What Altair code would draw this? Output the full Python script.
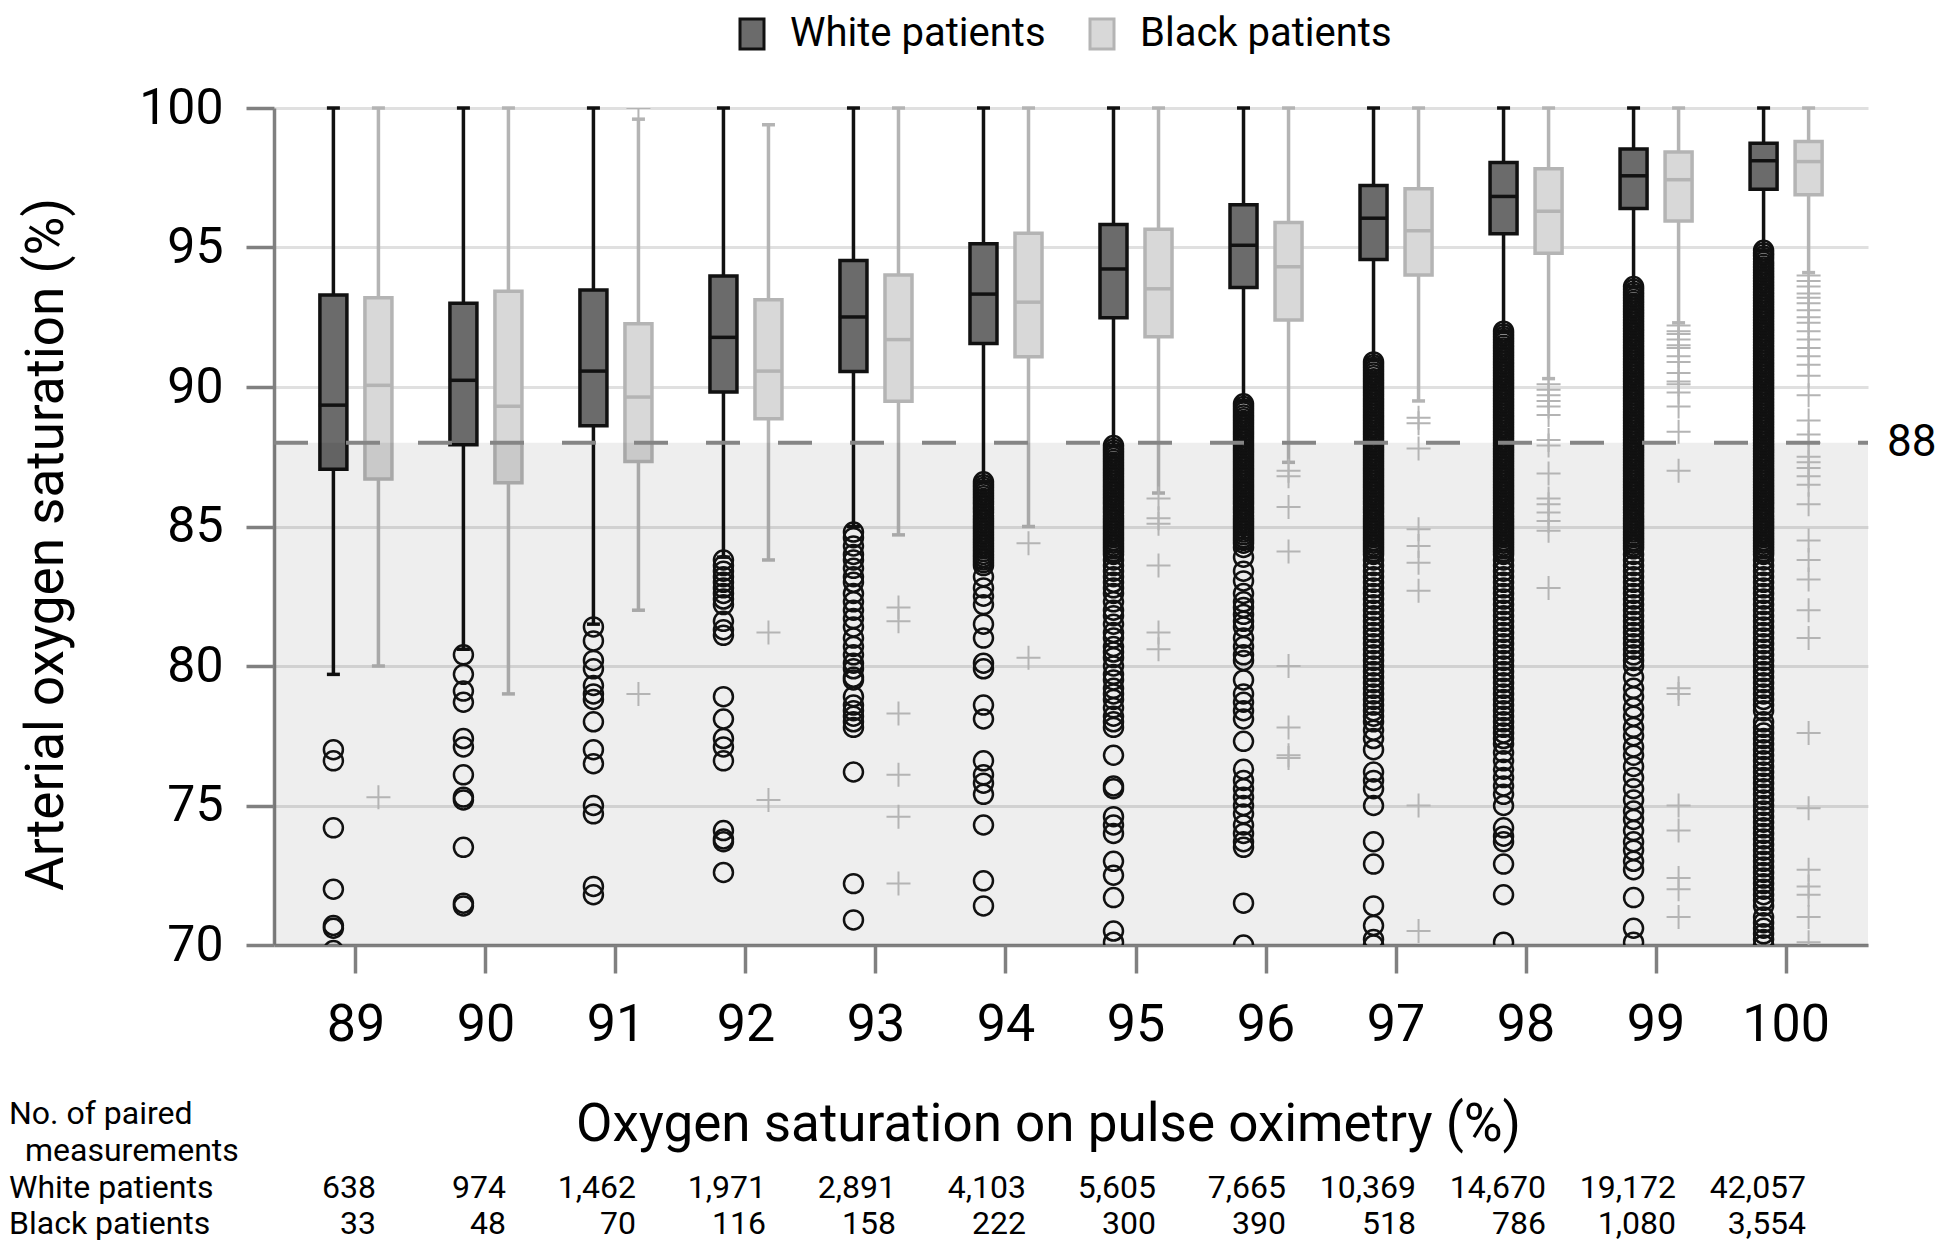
import altair as alt
import pandas as pd

# ---------------- data ----------------
categories = ["89", "90", "91", "92", "93", "94", "95", "96", "97", "98", "99", "100"]
GROUPS = ["White patients", "Black patients"]

white_lo = [79.7, 80.6, 81.5, 83.9, 85.0, 86.6, 87.9, 89.5, 91.0, 92.0, 93.6, 94.9]
white_q1 = [87.05, 87.93, 88.61, 89.82, 90.56, 91.56, 92.48, 93.57, 94.57, 95.49, 96.40, 97.09]
white_med = [89.35, 90.24, 90.57, 91.78, 92.51, 93.33, 94.23, 95.08, 96.05, 96.83, 97.57, 98.11]
white_q3 = [93.3, 93.0, 93.48, 93.98, 94.53, 95.13, 95.82, 96.53, 97.22, 98.05, 98.53, 98.74]
white_hi = [100, 100, 100, 100, 100, 100, 100, 100, 100, 100, 100, 100]

black_lo = [80.0, 79.0, 82.0, 83.8, 84.7, 85.0, 86.2, 87.3, 89.5, 90.3, 92.3, 94.1]
black_q1 = [86.7, 86.57, 87.33, 88.86, 89.49, 91.08, 91.80, 92.40, 94.01, 94.79, 95.95, 96.89]
black_med = [90.06, 89.31, 89.64, 90.57, 91.70, 93.04, 93.52, 94.31, 95.60, 96.30, 97.43, 98.08]
black_q3 = [93.2, 93.43, 92.27, 93.13, 94.01, 95.51, 95.65, 95.90, 97.11, 97.82, 98.42, 98.80]
black_hi = [100, 100, 99.6, 99.4, 100, 100, 100, 100, 100, 100, 100, 100]

white_n = [638, 974, 1462, 1971, 2891, 4103, 5605, 7665, 10369, 14670, 19172, 42057]
black_n = [33, 48, 70, 116, 158, 222, 300, 390, 518, 786, 1080, 3554]

# outliers (white patients: circles)
w_out_89 = [77.0, 76.6, 74.2, 72.0, 70.7, 70.6, 69.8]
w_out_90 = [80.4, 79.7, 79.1, 78.7, 77.4, 77.1, 76.1, 75.3, 75.2, 73.5, 71.5, 71.4]
w_out_91 = [81.4, 80.9, 80.2, 79.9, 79.3, 79.0, 78.8, 78.0, 77.0, 76.5, 75.0, 74.7, 72.1, 71.8]
w_out_92 = [83.8, 83.6, 83.4, 83.2, 83.0, 82.8, 82.6, 82.4, 82.2, 81.6, 81.3, 81.1,
            78.9, 78.1, 77.4, 77.1, 76.6, 74.1, 73.8, 73.7, 72.6]
w_out_93 = [84.8, 84.6, 84.3, 84.0, 83.8, 83.5, 83.2, 83.0, 82.6, 82.3, 82.0, 81.7, 81.4,
            81.0, 80.7, 80.4, 80.1, 79.9, 79.6, 79.5, 78.9, 78.6, 78.4, 78.2, 78.0, 77.8,
            76.2, 72.2, 70.9]
w_out_94 = [86.6, 86.5, 86.4, 86.3, 86.2, 86.1, 86.0, 85.9, 85.8, 85.7, 85.6, 85.5, 85.4,
            85.3, 85.2, 85.1, 85.0, 84.9, 84.8, 84.7, 84.6, 84.5, 84.4, 84.3, 84.2, 84.1,
            84.0, 83.9, 83.8, 83.7, 83.6,
            83.2, 82.8, 82.5, 82.2, 81.5, 81.0, 80.1, 79.9, 78.6, 78.1, 76.6, 76.1, 75.8,
            75.4, 74.3, 72.3, 71.4]
w_out_95 = [87.9, 87.8, 87.7, 87.6, 87.5, 87.4, 87.3, 87.2, 87.1, 87.0,
            86.9, 86.8, 86.7, 86.6, 86.5, 86.4, 86.3, 86.2, 86.1, 86.0,
            85.9, 85.8, 85.7, 85.6, 85.5, 85.4, 85.3, 85.2, 85.1, 85.0,
            84.9, 84.8, 84.7, 84.6, 84.5, 84.4, 84.3, 84.2, 84.1, 84.0,
            83.8, 83.6, 83.4, 83.2, 83.0, 82.8, 82.6, 82.3, 82.0, 81.8, 81.5, 81.2,
            81.0, 80.7, 80.5, 80.3, 80.0, 79.7, 79.5, 79.2, 79.0, 78.8, 78.5, 78.2,
            78.0, 77.8, 76.8, 75.7, 75.6, 74.6, 74.3, 74.0, 73.0, 72.5, 71.7, 70.5, 70.1]
w_out_96 = [89.4, 89.3, 89.2, 89.1, 89.0,
            88.9, 88.8, 88.7, 88.6, 88.5, 88.4, 88.3, 88.2, 88.1, 88.0,
            87.9, 87.8, 87.7, 87.6, 87.5, 87.4, 87.3, 87.2, 87.1, 87.0,
            86.9, 86.8, 86.7, 86.6, 86.5, 86.4, 86.3, 86.2, 86.1, 86.0,
            85.9, 85.8, 85.7, 85.6, 85.5, 85.4, 85.3, 85.2, 85.1, 85.0,
            84.9, 84.8, 84.7, 84.6, 84.5, 84.4,
            84.25, 83.9, 83.4, 83.05, 82.6, 82.3, 82.1, 81.85, 81.6, 81.4, 81.0, 80.7,
            80.4, 80.2, 79.5, 79.0, 78.7, 78.4, 78.1, 77.3, 76.3, 75.9, 75.6, 75.3,
            75.0, 74.7, 74.3, 74.0, 73.7, 73.5, 71.5, 70.0]
w_out_97 = [90.9, 90.8, 90.7, 90.6, 90.5, 90.4, 90.3, 90.2, 90.1, 90.0,
            89.9, 89.8, 89.7, 89.6, 89.5, 89.4, 89.3, 89.2, 89.1, 89.0,
            88.9, 88.8, 88.7, 88.6, 88.5, 88.4, 88.3, 88.2, 88.1, 88.0,
            87.9, 87.8, 87.7, 87.6, 87.5, 87.4, 87.3, 87.2, 87.1, 87.0,
            86.9, 86.8, 86.7, 86.6, 86.5, 86.4, 86.3, 86.2, 86.1, 86.0,
            85.9, 85.8, 85.7, 85.6, 85.5, 85.4, 85.3, 85.2, 85.1, 85.0,
            84.9, 84.8, 84.7, 84.6, 84.5, 84.4, 84.3, 84.2, 84.1, 84.0,
            83.8, 83.6, 83.4, 83.2, 83.0, 82.8, 82.6, 82.4, 82.2, 82.0,
            81.8, 81.6, 81.4, 81.2, 81.0, 80.8, 80.6, 80.4, 80.2, 80.0,
            79.8, 79.6, 79.4, 79.2, 79.0, 78.8, 78.6, 78.4, 78.2, 78.0,
            77.7, 77.4, 77.0, 76.2, 75.9, 75.6, 75.0, 73.7, 72.9, 71.4, 70.7, 70.2, 70.0]
w_out_98 = [92.0,
            91.9, 91.8, 91.7, 91.6, 91.5, 91.4, 91.3, 91.2, 91.1, 91.0,
            90.9, 90.8, 90.7, 90.6, 90.5, 90.4, 90.3, 90.2, 90.1, 90.0,
            89.9, 89.8, 89.7, 89.6, 89.5, 89.4, 89.3, 89.2, 89.1, 89.0,
            88.9, 88.8, 88.7, 88.6, 88.5, 88.4, 88.3, 88.2, 88.1, 88.0,
            87.9, 87.8, 87.7, 87.6, 87.5, 87.4, 87.3, 87.2, 87.1, 87.0,
            86.9, 86.8, 86.7, 86.6, 86.5, 86.4, 86.3, 86.2, 86.1, 86.0,
            85.9, 85.8, 85.7, 85.6, 85.5, 85.4, 85.3, 85.2, 85.1, 85.0,
            84.9, 84.8, 84.7, 84.6, 84.5, 84.4, 84.3, 84.2, 84.1, 84.0,
            83.8, 83.6, 83.4, 83.2, 83.0, 82.8, 82.6, 82.4, 82.2, 82.0,
            81.8, 81.6, 81.4, 81.2, 81.0, 80.8, 80.6, 80.4, 80.2, 80.0,
            79.8, 79.6, 79.4, 79.2, 79.0, 78.8, 78.6, 78.4, 78.2, 78.0,
            77.8, 77.6, 77.4, 77.2,
            76.9, 76.6, 76.3, 76.0, 75.7, 75.4, 75.0, 74.2, 73.9, 73.7, 72.9, 71.8, 70.1]
w_out_99 = [93.6, 93.5, 93.4, 93.3, 93.2, 93.1, 93.0,
            92.9, 92.8, 92.7, 92.6, 92.5, 92.4, 92.3, 92.2, 92.1, 92.0,
            91.9, 91.8, 91.7, 91.6, 91.5, 91.4, 91.3, 91.2, 91.1, 91.0,
            90.9, 90.8, 90.7, 90.6, 90.5, 90.4, 90.3, 90.2, 90.1, 90.0,
            89.9, 89.8, 89.7, 89.6, 89.5, 89.4, 89.3, 89.2, 89.1, 89.0,
            88.9, 88.8, 88.7, 88.6, 88.5, 88.4, 88.3, 88.2, 88.1, 88.0,
            87.9, 87.8, 87.7, 87.6, 87.5, 87.4, 87.3, 87.2, 87.1, 87.0,
            86.9, 86.8, 86.7, 86.6, 86.5, 86.4, 86.3, 86.2, 86.1, 86.0,
            85.9, 85.8, 85.7, 85.6, 85.5, 85.4, 85.3, 85.2, 85.1, 85.0,
            84.9, 84.8, 84.7, 84.6, 84.5, 84.4, 84.3, 84.2,
            84.0, 83.8, 83.6, 83.4, 83.2, 83.0, 82.8, 82.6, 82.4, 82.2, 82.0,
            81.8, 81.6, 81.4, 81.2, 81.0, 80.8, 80.6, 80.4, 80.2, 80.0,
            79.6, 79.2, 78.9, 78.5, 78.2, 77.8, 77.5, 77.1, 76.8, 76.4, 76.0, 75.6,
            75.2, 74.8, 74.5, 74.1, 73.7, 73.4, 73.0, 72.7, 71.7, 70.6, 70.1]
w_out_100 = [94.9, 94.8, 94.7, 94.6, 94.5, 94.4, 94.3, 94.2, 94.1, 94.0,
             93.9, 93.8, 93.7, 93.6, 93.5, 93.4, 93.3, 93.2, 93.1, 93.0,
             92.9, 92.8, 92.7, 92.6, 92.5, 92.4, 92.3, 92.2, 92.1, 92.0,
             91.9, 91.8, 91.7, 91.6, 91.5, 91.4, 91.3, 91.2, 91.1, 91.0,
             90.9, 90.8, 90.7, 90.6, 90.5, 90.4, 90.3, 90.2, 90.1, 90.0,
             89.9, 89.8, 89.7, 89.6, 89.5, 89.4, 89.3, 89.2, 89.1, 89.0,
             88.9, 88.8, 88.7, 88.6, 88.5, 88.4, 88.3, 88.2, 88.1, 88.0,
             87.9, 87.8, 87.7, 87.6, 87.5, 87.4, 87.3, 87.2, 87.1, 87.0,
             86.9, 86.8, 86.7, 86.6, 86.5, 86.4, 86.3, 86.2, 86.1, 86.0,
             85.9, 85.8, 85.7, 85.6, 85.5, 85.4, 85.3, 85.2, 85.1, 85.0,
             84.9, 84.8, 84.7, 84.6, 84.5, 84.4, 84.3, 84.2, 84.1, 84.0,
             83.8, 83.6, 83.4, 83.2, 83.0, 82.8, 82.6, 82.4, 82.2, 82.0,
             81.8, 81.6, 81.4, 81.2, 81.0, 80.8, 80.6, 80.4, 80.2, 80.0,
             79.8, 79.6, 79.4, 79.2, 79.0, 78.8, 78.6, 78.4,
             78.0, 77.8, 77.6, 77.4, 77.2, 77.0, 76.8, 76.6, 76.4, 76.2, 76.0,
             75.8, 75.6, 75.4, 75.2, 75.0, 74.8, 74.6, 74.4, 74.2, 74.0,
             73.8, 73.6, 73.4, 73.2, 73.0, 72.8, 72.6, 72.4, 72.2, 72.0,
             71.8, 71.6, 71.4, 71.0, 70.8, 70.6, 70.4, 70.2, 70.0]

# outliers (black patients: crosses)
b_out_89 = [75.3]
b_out_90 = []
b_out_91 = [100.0, 79.0]
b_out_92 = [81.2, 75.2]
b_out_93 = [82.1, 81.6, 78.3, 76.1, 74.6, 72.2]
b_out_94 = [84.4, 80.3]
b_out_95 = [86.0, 85.3, 85.1, 83.6, 81.2, 80.6]
b_out_96 = [87.0, 86.8, 85.7, 84.1, 80.0, 77.8, 76.8, 76.7]
b_out_97 = [88.9, 88.7, 87.8, 84.9, 84.3, 83.7, 82.7, 75.0, 70.5]
b_out_98 = [90.1, 89.9, 89.7, 89.5, 89.3, 89.0, 88.1, 87.9, 86.9, 86.0, 85.8, 85.5,
            85.2, 84.85, 82.8]
b_out_99 = [92.2, 92.0, 91.9, 91.7, 91.5, 91.4, 91.1, 90.9, 90.5, 90.2, 90.1, 89.8,
            89.3, 88.4, 87.0, 79.2, 79.0, 75.0, 74.1, 72.4, 72.0, 71.0]
b_out_100 = [94.0, 93.8, 93.6, 93.35, 93.2, 93.0, 92.75, 92.5, 92.3, 92.0, 91.7, 91.4,
             91.1, 90.8, 90.4, 89.7, 88.8, 88.3, 88.0, 87.5, 87.3, 87.1, 86.8, 86.5,
             85.8, 84.5, 83.8, 83.1, 82.0, 81.0, 77.6, 74.9, 72.7, 72.1, 71.8, 71.0, 70.1]

white_outliers = [w_out_89, w_out_90, w_out_91, w_out_92, w_out_93, w_out_94,
                  w_out_95, w_out_96, w_out_97, w_out_98, w_out_99, w_out_100]
black_outliers = [b_out_89, b_out_90, b_out_91, b_out_92, b_out_93, b_out_94,
                  b_out_95, b_out_96, b_out_97, b_out_98, b_out_99, b_out_100]

threshold = [88]
shade_range = {"lo": [70], "hi": [88]}
row_labels = ["No. of paired", "measurements", "White patients", "Black patients"]

# ---------------- tables ----------------
box_df = pd.DataFrame({
    "cat": categories + categories,
    "group": [GROUPS[0]] * len(categories) + [GROUPS[1]] * len(categories),
    "lo": white_lo + black_lo,
    "q1": white_q1 + black_q1,
    "med": white_med + black_med,
    "q3": white_q3 + black_q3,
    "hi": white_hi + black_hi,
})

rows = []
for grp, lists in zip(GROUPS, [white_outliers, black_outliers]):
    for cat, vals in zip(categories, lists):
        for v in vals:
            rows.append({"cat": cat, "group": grp, "value": v})
out_df = pd.DataFrame(rows)

count_df = pd.DataFrame({"cat": categories, "white_n": white_n, "black_n": black_n})
ref_df = pd.DataFrame({"v": threshold})
shade_df = pd.DataFrame(shade_range)

# ---------------- scales / axes ----------------
FONT = "Roboto"
DARK = "#111111"
GREY = "#b4b4b4"
AXIS_GREY = "#808080"

x_scale = alt.Scale(domain=categories, paddingInner=0, paddingOuter=0.13)
xo_scale = alt.Scale(domain=GROUPS, paddingInner=0, paddingOuter=0.444)
y_scale = alt.Scale(domain=[70, 100], nice=False, zero=False)

x_axis = alt.Axis(labelAngle=0, labelFontSize=52, labelPadding=26, labelColor="black",
                  tickSize=28, tickWidth=3.5, tickColor=AXIS_GREY,
                  domainColor=AXIS_GREY, domainWidth=3.5, grid=False,
                  titleFontSize=53, titleFontWeight="normal", titleColor="black",
                  titleX=774, titleY=195, titleBaseline="alphabetic", titleAlign="center")
y_axis = alt.Axis(values=[70, 75, 80, 85, 90, 95, 100], grid=True, gridColor="#e0e0e0",
                  gridWidth=3, tickSize=28, tickWidth=3.5, tickColor=AXIS_GREY,
                  domainColor=AXIS_GREY, domainWidth=3.5, labelFontSize=50,
                  labelPadding=23, labelColor="black",
                  titleFontSize=53, titleFontWeight="normal", titleColor="black",
                  titleX=-228, titleY=436, titleAngle=270, titleBaseline="middle",
                  titleAlign="center")

X_TITLE = "Oxygen saturation on pulse oximetry (%)"
Y_TITLE = "Arterial oxygen saturation (%)"


def X():
    return alt.X("cat:N", scale=x_scale, axis=x_axis, title=X_TITLE)


def XO():
    return alt.XOffset("group:N", scale=xo_scale)


def Y(field):
    return alt.Y(f"{field}:Q", scale=y_scale, axis=y_axis, title=Y_TITLE)


legend = alt.Legend(title=None, orient="none", legendX=458, legendY=-94,
                    direction="horizontal", labelFontSize=40, labelFont=FONT,
                    labelColor="black", labelLimit=0, symbolType="M-0.8,-1H0.8V1H-0.8Z",
                    symbolSize=900, symbolStrokeWidth=3, labelOffset=18,
                    columnPadding=36, padding=0)

layers = []

# whiskers and caps
for grp, col in zip(GROUPS, [DARK, GREY]):
    base = alt.Chart(box_df).transform_filter(alt.datum.group == grp)
    layers.append(base.mark_rule(color=col, strokeWidth=3.5).encode(
        x=X(), xOffset=XO(), y=Y("lo"), y2="hi"))
    layers.append(base.mark_tick(color=col, thickness=3.5, size=13, opacity=1).encode(
        x=X(), xOffset=XO(), y=Y("lo")))
    layers.append(base.mark_tick(color=col, thickness=3.5, size=13, opacity=1).encode(
        x=X(), xOffset=XO(), y=Y("hi")))

# boxes
layers.append(alt.Chart(box_df).mark_bar(width=27, strokeWidth=3.5).encode(
    x=X(), xOffset=XO(), y=Y("q1"), y2="q3",
    fill=alt.Fill("group:N", scale=alt.Scale(domain=GROUPS, range=["#6b6b6b", "#d8d8d8"]),
                  legend=legend),
    stroke=alt.Stroke("group:N", scale=alt.Scale(domain=GROUPS, range=[DARK, GREY]),
                      legend=legend),
))

# medians
for grp, col in zip(GROUPS, [DARK, GREY]):
    base = alt.Chart(box_df).transform_filter(alt.datum.group == grp)
    layers.append(base.mark_tick(color=col, thickness=3.5, size=29, opacity=1).encode(
        x=X(), xOffset=XO(), y=Y("med")))

# shaded zone below 88
layers.append(alt.Chart(shade_df).mark_rect(color="#000000", opacity=0.066).encode(
    x=alt.value(0), x2=alt.value("width"), y=Y("lo"), y2=alt.Y2("hi")))

# outliers
layers.append(alt.Chart(out_df).transform_filter(alt.datum.group == GROUPS[0]).mark_point(
    shape="circle", filled=False, size=360, strokeWidth=2.5, color=DARK, opacity=1,
    clip=True).encode(x=X(), xOffset=XO(), y=Y("value")))
layers.append(alt.Chart(out_df).transform_filter(alt.datum.group == GROUPS[1]).mark_point(
    shape="M-1,0H1M0,-1V1", filled=False, size=576, strokeWidth=2, color=GREY, opacity=1,
    clip=True).encode(x=X(), xOffset=XO(), y=Y("value")))

# threshold line and label
layers.append(alt.Chart(ref_df).mark_rule(color="#858585", strokeWidth=4,
                                           strokeDash=[34, 38]).encode(
    y=Y("v"), x=alt.value(0), x2=alt.value("width")))
layers.append(alt.Chart(ref_df).mark_text(align="left", baseline="middle", fontSize=44,
                                           color="black", font=FONT).encode(
    x=alt.value(1613), y=Y("v"), text=alt.Text("v:Q")))

# table of counts
layers.append(alt.Chart(count_df).mark_text(align="right", baseline="alphabetic",
                                             fontSize=32, dx=20, color="black",
                                             font=FONT).encode(
    x=X(), y=alt.value(1090), text=alt.Text("white_n:Q", format=",")))
layers.append(alt.Chart(count_df).mark_text(align="right", baseline="alphabetic",
                                             fontSize=32, dx=20, color="black",
                                             font=FONT).encode(
    x=X(), y=alt.value(1126), text=alt.Text("black_n:Q", format=",")))

label_pos = [(-265, 1016), (-249, 1053), (-265, 1090), (-265, 1126)]
for lab, (px, py) in zip(row_labels, label_pos):
    layers.append(alt.Chart(pd.DataFrame({"label": [lab]})).mark_text(
        align="left", baseline="alphabetic", fontSize=32, color="black", font=FONT).encode(
        x=alt.value(px), y=alt.value(py), text="label:N"))

chart = alt.layer(*layers).properties(
    width=1594, height=837,
    autosize=alt.AutoSizeParams(type="none"),
    padding={"left": 266, "top": 100, "right": 70, "bottom": 298},
    background="white",
).configure(font=FONT).configure_view(strokeWidth=0)

chart.save("out.html", embed_options={"renderer": "svg", "actions": False})
